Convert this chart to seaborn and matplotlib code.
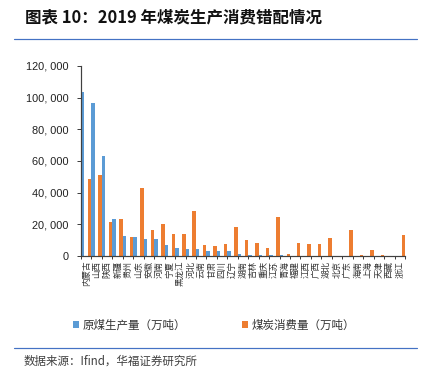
import numpy as np
import pandas as pd
import seaborn as sns
import matplotlib.pyplot as plt
from matplotlib.ticker import FuncFormatter, FixedLocator

# 2019 coal production / consumption by province (万吨)
provinces = ["内蒙古", "山西", "陕西", "新疆", "贵州", "山东", "安徽", "河南", "宁夏", "黑龙江",
             "河北", "云南", "甘肃", "四川", "辽宁", "湖南", "吉林", "重庆", "江苏", "青海",
             "福建", "江西", "广西", "湖北", "北京", "广东", "海南", "上海", "天津", "西藏", "浙江"]
production = [103400, 96800, 63300, 23500, 12700, 11700, 10600, 10500, 7000, 4900,
              4700, 4400, 3200, 3000, 2900, 1300, 700, 600, 700, 700,
              300, 200, 100, 100, 0, 0, 0, 0, 0, 0, 0]
consumption = [48700, 51200, 21300, 23400, 11800, 42900, 16400, 20000, 13700, 13900,
               28400, 7200, 6300, 7600, 18300, 10300, 8400, 4800, 24600, 1300,
               8400, 7800, 7800, 11600, 0, 16400, 800, 4000, 500, 0, 13400]
series_names = ["原煤生产量（万吨）", "煤炭消费量（万吨）"]
colors = ["#5B9BD5", "#ED7D31"]

df = pd.DataFrame({
    "省份": provinces * 2,
    "数值": production + consumption,
    "类别": [series_names[0]] * len(provinces) + [series_names[1]] * len(provinces),
})

sns.set_style("white")
plt.rcParams['font.family'] = ['Noto Sans CJK SC', 'DejaVu Sans']

fig = plt.figure(figsize=(6, 367 / 72), dpi=72)
ax = fig.add_axes([81 / 432, 1 - 256 / 367, 324 / 432, 190 / 367])

sns.barplot(data=df, x="省份", y="数值", hue="类别", palette=colors, ax=ax,
            width=4 / 3, gap=0.5, saturation=1, linewidth=0, legend=True)

ax.set_xlim(-0.5, len(provinces) - 0.5)
ax.set_ylim(0, 120000)
ax.set_xlabel("")
ax.set_ylabel("")
ax.yaxis.set_major_locator(FixedLocator(np.arange(0, 120001, 20000)))
ax.yaxis.set_major_formatter(FuncFormatter(lambda v, p: f"{int(v):,}".replace(",", ", ")))
for lab in ax.get_yticklabels():
    lab.set_family(['Liberation Sans', 'DejaVu Sans'])
ax.tick_params(axis='y', labelsize=11, length=4, width=1, color='#404040', direction='out',
               left=True, labelcolor='#222222', pad=8)

# x ticks at category boundaries, labels at centres
ax.set_xticks(np.arange(-0.5, len(provinces), 1.0))
ax.set_xticklabels([])
ax.set_xticks(np.arange(len(provinces)), minor=True)
ax.set_xticklabels(provinces, minor=True, rotation=90, fontsize=8.5, color='#333333', va='top')
ax.tick_params(axis='x', which='major', length=3, width=1, color='#404040', direction='out', bottom=True)
ax.tick_params(axis='x', which='minor', length=0, pad=5)

for side in ['top', 'right']:
    ax.spines[side].set_visible(False)
for side in ['left', 'bottom']:
    ax.spines[side].set_color('#404040')
    ax.spines[side].set_linewidth(1.2)

handles, labels = ax.get_legend_handles_labels()
ax.get_legend().remove()
fig.legend(handles, labels, loc='center', bbox_to_anchor=(214 / 432, 1 - 325 / 367), ncol=2,
           frameon=False, fontsize=11.5, handlelength=0.55, handleheight=0.55, handletextpad=0.3,
           columnspacing=4.8, labelcolor='#333333')

# title and source
fig.text(25 / 432, 1 - 17 / 367, "图表 10：2019 年煤炭生产消费错配情况", fontsize=16.5,
         fontweight='bold', va='center', ha='left', color='#111111')
fig.add_artist(plt.Line2D([14 / 432, 417 / 432], [1 - 39 / 367] * 2, color='#4472C4', lw=1.2))
fig.add_artist(plt.Line2D([14 / 432, 417 / 432], [1 - 348 / 367] * 2, color='#4472C4', lw=1.2))
fig.text(24 / 432, 1 - 361 / 367, "数据来源：Ifind，华福证券研究所", fontsize=11.5,
         va='center', ha='left', color='#404040')

fig.savefig("out.png", dpi=72)
